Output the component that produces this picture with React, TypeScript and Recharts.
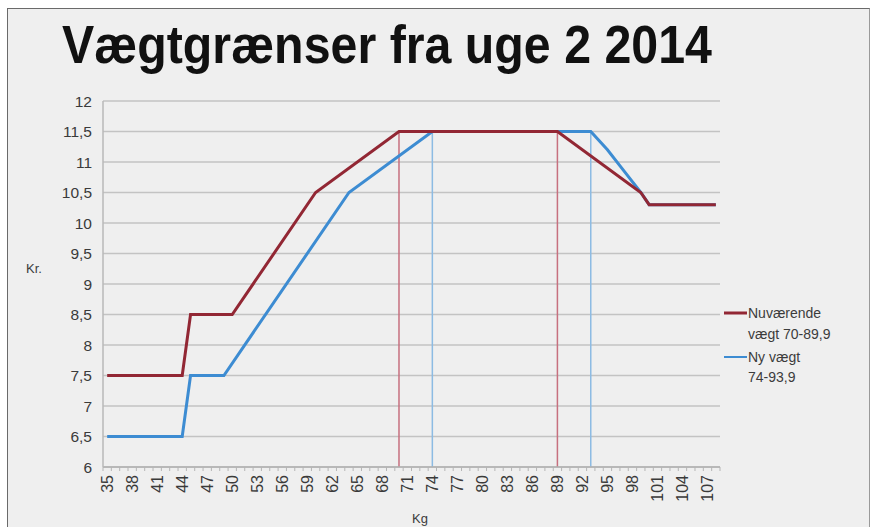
import React from 'react';
import { LineChart, Line, XAxis, YAxis, CartesianGrid, ReferenceLine } from 'recharts';

const kgTicks = [35, 38, 41, 44, 47, 50, 53, 56, 59, 62, 65, 68, 71, 74, 77, 80, 83, 86, 89, 92, 95, 98, 101, 104, 107];
const krTicks = [6, 6.5, 7, 7.5, 8, 8.5, 9, 9.5, 10, 10.5, 11, 11.5, 12];

const currentKg = [35, 44, 45, 50, 60, 70, 89, 99, 100, 108];
const currentKr = [7.5, 7.5, 8.5, 8.5, 10.5, 11.5, 11.5, 10.5, 10.3, 10.3];
const newKg = [35, 44, 45, 49, 64, 74, 93, 95, 97, 99, 100, 108];
const newKr = [6.5, 6.5, 7.5, 7.5, 10.5, 11.5, 11.5, 11.2, 10.85, 10.5, 10.3, 10.3];

const currentLimits = [70, 89];
const newLimits = [74, 93];
const limitTop = 11.5;

const currentData = currentKg.map((kg, i) => ({ kg, kr: currentKr[i] }));
const newData = newKg.map((kg, i) => ({ kg, kr: newKr[i] }));

const RED = '#922734';
const BLUE = '#3d8cd2';
const RED_LIMIT = '#c7707f';
const BLUE_LIMIT = '#8cbbe3';
const FONT = '"Liberation Sans", Arial, sans-serif';

const PLOT_LEFT = 103;
const PLOT_RIGHT = 720;
const DOMAIN_MIN = 34.5;
const DOMAIN_MAX = 108.5;
const CAT_W = (PLOT_RIGHT - PLOT_LEFT) / (DOMAIN_MAX - DOMAIN_MIN);

function KgTick(props: any) {
  const { x, y, payload } = props;
  return (
    <g>
      {[-0.5, 0.5, 1.5].map((o) => (
        <line key={o} x1={x + o * CAT_W} x2={x + o * CAT_W} y1={y} y2={y + 4} stroke="#b5b5b5" strokeWidth={1} />
      ))}
      <text
        transform={`translate(${x},${y + 8}) rotate(-90)`}
        textAnchor="end"
        dy="0.36em"
        fontSize={16}
        fontFamily={FONT}
        fill="#3a3a3a"
      >
        {payload.value}
      </text>
    </g>
  );
}

export default function App() {
  return (
    <div style={{ position: 'fixed', left: 0, top: 0, width: 873, height: 527, background: '#ffffff', overflow: 'hidden' }}>
      <div
        style={{
          position: 'absolute',
          left: 7,
          top: 8,
          width: 861,
          height: 540,
          borderLeft: '1.5px solid #6a6a6a',
          borderTop: '1.5px solid #6a6a6a',
          borderRight: '1.5px solid #9a9a9a',
          background: '#efefef',
        }}
      />
      <div style={{ position: 'absolute', left: 0, top: 0 }}>
        <LineChart width={873} height={527} margin={{ top: 101, right: 873 - PLOT_RIGHT, bottom: 0, left: PLOT_LEFT - 60 }}>
          <CartesianGrid vertical={false} stroke="#c3c3c3" strokeWidth={1.5} />
          <XAxis
            type="number"
            dataKey="kg"
            domain={[DOMAIN_MIN, DOMAIN_MAX]}
            ticks={kgTicks}
            interval={0}
            tick={<KgTick />}
            tickLine={false}
            tickSize={0}
            tickMargin={0}
            height={60}
            axisLine={{ stroke: '#b0b0b0', strokeWidth: 1.5 }}
            allowDataOverflow
          />
          <YAxis
            type="number"
            domain={[6, 12]}
            ticks={krTicks}
            interval={0}
            width={60}
            tickLine={false}
            tickSize={0}
            tickMargin={11}
            axisLine={{ stroke: '#b8b8b8', strokeWidth: 1.5 }}
            tick={{ fontSize: 15.5, fontFamily: FONT, fill: '#3a3a3a' }}
            tickFormatter={(v: number) => String(v).replace('.', ',')}
          />
          {currentLimits.map((k) => (
            <ReferenceLine key={'c' + k} segment={[{ x: k, y: 6 }, { x: k, y: limitTop }]} stroke={RED_LIMIT} strokeWidth={1.5} />
          ))}
          {newLimits.map((k) => (
            <ReferenceLine key={'n' + k} segment={[{ x: k, y: 6 }, { x: k, y: limitTop }]} stroke={BLUE_LIMIT} strokeWidth={1.5} />
          ))}
          <Line data={newData} dataKey="kr" type="linear" stroke={BLUE} strokeWidth={3} dot={false} isAnimationActive={false} />
          <Line data={currentData} dataKey="kr" type="linear" stroke={RED} strokeWidth={3} dot={false} isAnimationActive={false} />
        </LineChart>
      </div>
      <svg width={873} height={527} style={{ position: 'absolute', left: 0, top: 0, pointerEvents: 'none' }}>
        <text x={62} y={63} fontSize={54} fontWeight="bold" fontFamily={FONT} fill="#111" textLength={650} lengthAdjust="spacingAndGlyphs">
          Vægtgrænser fra uge 2 2014
        </text>
        <text x={26} y={273} fontSize={13} fontFamily={FONT} fill="#3c3c3c">Kr.</text>
        <text x={420} y={523} fontSize={13} fontFamily={FONT} fill="#3c3c3c" textAnchor="middle">Kg</text>
        <line x1={724} x2={747} y1={313} y2={313} stroke={RED} strokeWidth={3} />
        <text x={748} y={318} fontSize={14} fontFamily={FONT} fill="#3c3c3c">Nuværende</text>
        <text x={748} y={339} fontSize={14} fontFamily={FONT} fill="#3c3c3c">vægt 70-89,9</text>
        <line x1={724} x2={747} y1={357} y2={357} stroke={BLUE} strokeWidth={2} />
        <text x={748} y={362} fontSize={14} fontFamily={FONT} fill="#3c3c3c">Ny vægt</text>
        <text x={748} y={382} fontSize={14} fontFamily={FONT} fill="#3c3c3c">74-93,9</text>
      </svg>
    </div>
  );
}
